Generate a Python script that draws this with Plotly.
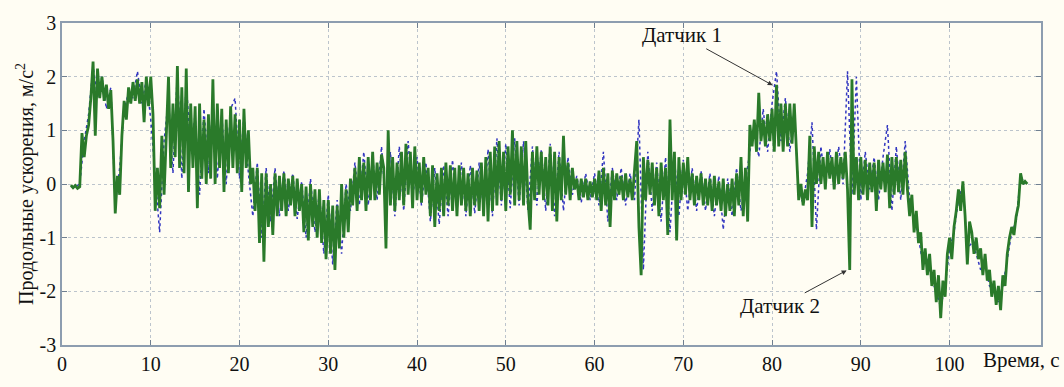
import plotly.graph_objects as go

# Sensor 2 (green, solid) values, sampled every 0.25 s starting at t = 1.0 s
t2_start = 1.0
t2_step = 0.25
sensor2 = [
    -0.02, -0.07, -0.03, -0.08,
    -0.05, 0.95, 0.5, 0.9,
    1.1, 1.6, 2.28, 0.9,
    2.15, 1.6, 2.0, 1.55,
    1.85, 1.4, 1.75, 0.8,
    -0.55, 0.15, -0.2, 0.9,
    1.55, 1.2, 1.8, 1.5,
    1.9, 1.55, 1.95, 1.5,
    1.9, 1.15, 2.0, 1.45,
    2.0, 1.3, -0.5, 0.3,
    -0.45, 0.9, -0.2, 1.05,
    2.0, 0.3, 1.5, 0.5,
    2.2, 0.3, 1.8, 0.2,
    2.15, -0.15, 1.5, 0.3,
    1.45, -0.45, 1.5, 0.1,
    1.2, 0.0, 1.3, 0.1,
    1.95, 0.0, 1.5, 0.3,
    1.4, -0.15, 1.2, 0.2,
    1.45, 0.3, 1.3, 0.2,
    1.2, -0.15, 1.4, 0.3,
    1.0, 0.0, 0.3, -0.5,
    0.3, -1.1, 0.2, -1.45,
    0.2, -0.8, 0.0, -0.95,
    0.2, -0.6, 0.15, -0.5,
    0.2, -0.6, 0.1, -0.4,
    0.15, -0.6, 0.1, -0.5,
    0.0, -0.9, -0.05, -1.05,
    0.0, -0.8, -0.1, -1.0,
    -0.1, -1.1, -0.3, -1.4,
    -0.3, -1.3, -0.4, -1.6,
    -0.4, -1.2, 0.0, -1.0,
    -0.1, -0.9, 0.1, -0.4,
    0.3, -0.5, 0.5, -0.3,
    0.4, -0.5, 0.5, -0.3,
    0.6, -0.3, 0.4, -0.2,
    0.55, 0.3, -1.2, 1.0,
    -0.4, 0.5, -0.5, 0.4,
    -0.3, 0.6, -0.4, 0.75,
    -0.2, 0.6, -0.45, 0.7,
    -0.3, 0.4, -0.35, 0.5,
    -0.2, 0.3, -0.6, 0.35,
    -0.8, 0.2, -0.5, 0.3,
    -0.6, 0.4, -0.4, 0.35,
    -0.5, 0.3, -0.6, 0.35,
    -0.4, 0.3, -0.5, 0.2,
    -0.6, 0.3, -0.4, 0.25,
    -0.5, 0.4, -0.6, 0.5,
    -0.7, 0.6, -0.5, 0.7,
    -0.4, 0.8, -0.3, 0.6,
    -0.5, 0.7, -0.2, 1.0,
    -0.4, 0.8, -0.3, 0.7,
    -0.4, 0.8, -0.3, -0.85,
    0.6, -0.3, 0.7, -0.2,
    0.6, -0.3, 0.5, -0.4,
    0.7, -0.5, 0.6, -0.7,
    0.5, -0.3, 0.9, -0.2,
    0.4, -0.3, 0.3, -0.1,
    0.1, -0.3, 0.1, -0.25,
    0.1, -0.3, 0.05, -0.25,
    0.1, -0.3, 0.25, -0.5,
    0.3, -0.4, 0.2, -0.8,
    0.25, -0.3, 0.2, -0.2,
    0.15, -0.3, 0.2, -0.25,
    0.1, -0.3, 0.2, 0.8,
    -0.8, -1.7, 0.5, -0.3,
    0.45, -0.2, 0.4, -0.4,
    0.3, -0.6, 0.4, -0.3,
    0.3, -0.95, 1.2, -0.3,
    0.6, -1.05, 0.5, -0.3,
    0.4, -0.2, 0.5, -0.3,
    0.2, -0.4, 0.15, -0.3,
    0.2, -0.4, 0.1, -0.4,
    0.1, -0.5, 0.15, -0.4,
    0.05, -0.5, 0.1, -0.6,
    0.0, -0.5, 0.1, -0.6,
    0.2, -0.4, 0.5, -0.6,
    0.3, -0.7, 1.1, 0.7,
    1.2, 0.6, 1.7, 0.8,
    1.2, 0.7, 1.3, 0.8,
    1.4, 0.6, 1.85, 0.7,
    1.5, 0.6, 1.5, 0.7,
    1.5, 0.75, 1.5, 0.5,
    -0.3, 0.0, -0.4, -0.1,
    -0.3, 0.9, -0.8, 0.7,
    0.0, 0.6, 0.0, 0.5,
    -0.1, 0.6, 0.1, 0.5,
    -0.1, 0.6, 0.0, 0.5,
    0.1, 0.6, -0.1, -1.6,
    1.95, -0.2, 0.5, -0.3,
    0.5, -0.2, 0.45, -0.3,
    0.4, -0.15, 0.4, -0.5,
    0.45, -0.1, 0.4, -0.15,
    0.55, -0.45, 0.5, -0.2,
    0.5, -0.15, 0.45, -0.2,
    0.6, -0.1, -0.6, -0.2,
    -0.9, -0.5, -1.1, -0.9,
    -1.6, -1.2, -1.7, -1.3,
    -1.9, -1.6, -2.2, -1.7,
    -2.5, -1.8, -2.1, -1.3,
    -1.0, -1.4, -0.8, -0.5,
    -0.1, -0.5, 0.05, -0.6,
    -1.5, -0.7, -0.9, -1.3,
    -1.0, -1.4, -1.2, -1.7,
    -1.3, -1.8, -1.6, -2.1,
    -1.8, -2.25, -1.9, -2.35,
    -1.7, -1.9, -1.3, -1.0,
    -0.8, -0.95, -0.6, -0.4,
    0.2, 0.0, 0.05, 0.0,
]

# Sensor 1 (blue, dotted) values, sampled every 0.5 s starting at t = 1.0 s
t1_start = 1.0
t1_step = 0.5
sensor1 = [
    -0.05, -0.05, 0.0, 0.8, 1.3, 2.2, 1.6, 2.0, 1.4, 1.8,
    -0.4, 0.3, 1.4, 1.7, 1.6, 2.1, 1.5, 1.95, 1.2, 0.2,
    -0.9, 0.8, 1.6, 0.2, 2.1, 0.1, 1.9, 0.6, 1.3, -0.2,
    1.4, 0.2, 1.5, 0.1, 1.3, 0.0, 1.4, 1.6, 0.1, 1.3,
    0.2, -0.6, 0.4, -1.0, 0.3, -0.7, 0.3, -0.6, 0.25, -0.5,
    0.2, -0.65, 0.05, -1.0, 0.1, -0.9, -0.15, -1.3, -0.2, -1.5,
    -0.3, -1.3, 0.0, -0.5, 0.4, -0.4, 0.6, -0.4, 0.5, -0.3,
    0.7, -0.5, 0.6, -0.6, 0.7, -0.5, 0.8, -0.3, 0.5, -0.4,
    0.4, -0.7, 0.3, -0.75, 0.35, -0.6, 0.45, -0.5, 0.4, -0.6,
    0.35, -0.55, 0.4, -0.5, 0.65, -0.6, 0.85, -0.4, 0.75, -0.45,
    0.85, -0.4, 0.8, -0.5, 0.7, -0.4, 0.65, -0.5, 0.75, -0.6,
    0.6, -0.5, 0.5, -0.2, 0.15, -0.35, 0.2, -0.3, 0.2, -0.4,
    0.6, -0.7, 0.3, -0.3, 0.3, -0.4, 0.2, -0.3, 1.2, -1.6,
    0.6, -0.5, 0.4, -0.7, 0.5, -0.9, 0.5, -0.6, 0.45, -0.5,
    0.3, -0.5, 0.25, -0.5, 0.2, -0.6, 0.15, -0.85, 0.1, -0.6,
    0.3, -0.5, 0.1, 0.6, 1.1, 0.5, 1.4, 0.6, 1.5, 2.1,
    0.8, 1.6, 0.6, 1.4, -0.2, -0.35, 0.2, 1.15, -0.85, 0.7,
    0.0, 0.65, -0.1, 0.7, 0.0, 2.1, -0.2, 2.0, -0.3, 0.6,
    -0.1, 0.5, -0.3, 0.5, 1.1, -0.5, 0.7, -0.3, 0.8, -0.3,
    -0.6, -1.0, -1.5, -1.4, -1.8, -2.0, -2.3, -1.9, -1.2, -0.9,
    -0.3, 0.0, -1.2, -1.1, -1.3, -1.6, -1.5, -1.9, -2.0, -2.2,
    -1.9, -1.4, -0.9, -0.7, 0.15, 0.0,
]

x_ticks = [0, 10, 20, 30, 40, 50, 60, 70, 80, 90, 100]
y_ticks = [-3, -2, -1, 0, 1, 2, 3]
y_tick_text = ["-3", "-2", "-1", "0", "1", "2", "3"]

label1 = "Датчик 1"
label2 = "Датчик 2"
x_title = "Время, с"
y_title = "Продольные ускорения, м/с<sup>2</sup>"

t2 = [t2_start + i * t2_step for i in range(len(sensor2))]
t1 = [t1_start + i * t1_step for i in range(len(sensor1))]

FONT = "Liberation Serif, Times New Roman, serif"
BG = "#fffdf3"

fig = go.Figure()
fig.add_trace(go.Scatter(x=t1, y=sensor1, mode="lines", name=label1,
                         line=dict(color="#3236c0", width=1.5, dash="dot")))
fig.add_trace(go.Scatter(x=t2, y=sensor2, mode="lines", name=label2,
                         line=dict(color="#2a7a2a", width=2.8)))

axis_common = dict(
    showgrid=True, gridcolor="#bcc4cc", griddash="dot", gridwidth=1,
    showline=True, linecolor="#8d9daf", linewidth=1.5, mirror="ticks",
    ticks="inside", ticklen=5, tickcolor="#6f7f90", tickwidth=1,
    zeroline=False,
    tickfont=dict(family=FONT, size=20, color="#111111"),
)

fig.update_xaxes(range=[0, 110.3], tickvals=x_ticks, **axis_common)
fig.update_yaxes(range=[-3, 3], tickvals=y_ticks, ticktext=y_tick_text, **axis_common)

fig.add_annotation(x=80.07, y=1.84, text=label1, showarrow=True,
                   ax=-91, ay=-50, arrowhead=2, arrowsize=1, arrowwidth=1,
                   arrowcolor="#333333", font=dict(family=FONT, size=21, color="#111111"))
fig.add_annotation(x=88.4, y=-1.61, text=label2, showarrow=True,
                   ax=-67, ay=36, arrowhead=2, arrowsize=1, arrowwidth=1,
                   arrowcolor="#333333", font=dict(family=FONT, size=21, color="#111111"))
fig.add_annotation(xref="paper", yref="paper", x=0.9796, y=-0.047, text=x_title,
                   showarrow=False, xanchor="center", yanchor="middle",
                   font=dict(family=FONT, size=21, color="#111111"))
fig.add_annotation(xref="paper", yref="paper", x=-0.0378, y=0.5, text=y_title,
                   showarrow=False, textangle=-90, xanchor="center", yanchor="middle",
                   font=dict(family=FONT, size=20, color="#111111"))

fig.update_layout(
    width=1064, height=387,
    margin=dict(l=62, r=23, t=14, b=31),
    plot_bgcolor=BG, paper_bgcolor=BG,
    showlegend=False,
)

fig.write_html("out.html")
